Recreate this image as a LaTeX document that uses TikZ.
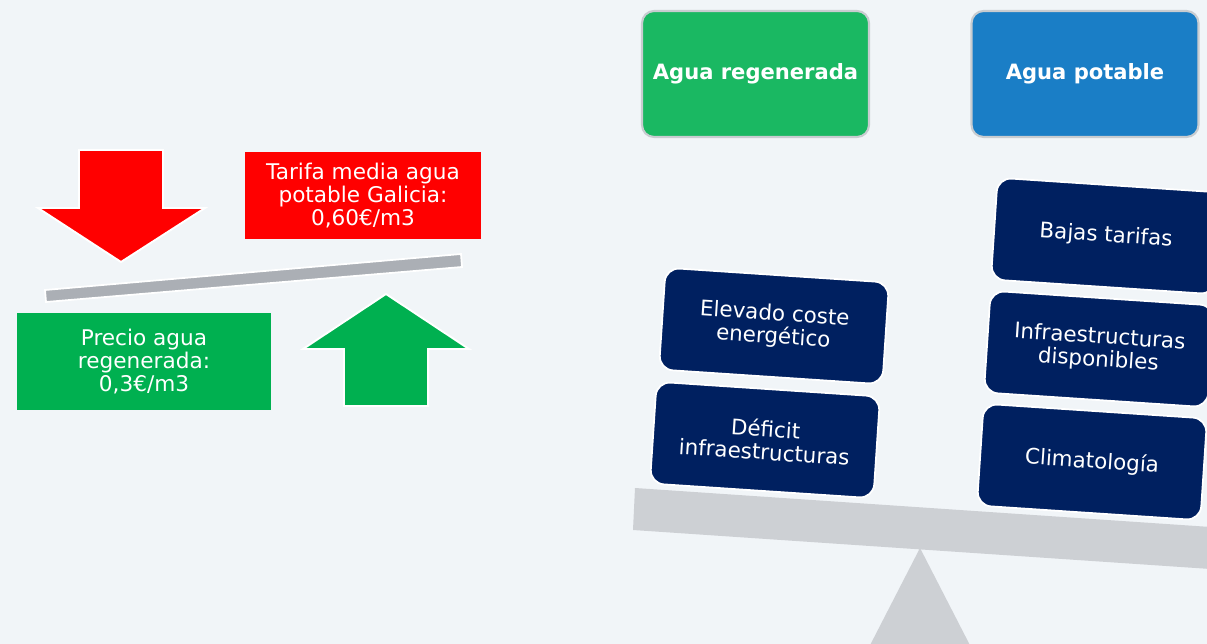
\documentclass[tikz,border=0pt]{standalone}
\usepackage{fontspec}
\setmainfont{DejaVu Sans}
\usetikzlibrary{positioning}
\definecolor{fondo}{RGB}{241,245,248}
\definecolor{rojo}{RGB}{255,0,0}
\definecolor{verde}{RGB}{0,176,80}
\definecolor{verdecaja}{RGB}{26,184,98}
\definecolor{azulcaja}{RGB}{26,126,198}
\definecolor{marino}{RGB}{0,32,96}
\definecolor{barra}{RGB}{171,175,181}
\definecolor{balanza}{RGB}{205,208,212}
\definecolor{bordegris}{RGB}{200,204,208}

\tikzset{
  precio/.style={text=white, align=center, inner sep=0pt, font=\fontsize{12.3}{13.2}\selectfont},
  titulo/.style={rounded corners=0.24cm, draw=bordegris, line width=1.2pt, text=white,
    minimum width=4.54cm, minimum height=2.52cm, font=\fontsize{12}{14}\selectfont\bfseries},
  factor/.style={rounded corners=0.28cm, draw=white, line width=1pt, fill=marino, text=white,
    rotate=-3.8, minimum width=4.48cm, minimum height=2.04cm, align=center, inner sep=0pt,
    font=\fontsize{12.2}{13}\selectfont},
  flecha/.style={draw=white, line width=1.1pt, line join=miter}
}

\begin{document}
\begin{tikzpicture}[x=0.02cm, y=-0.02cm]

    % === FONDO ===
    \fill[fondo] (0,0) rectangle (1207,644);
    \useasboundingbox (0,0) rectangle (1207,644);
    \clip (0,0) rectangle (1207,644);

    % === LADO IZQUIERDO: PRECIOS ===
    % Flecha roja hacia abajo
    \filldraw[flecha, fill=rojo] (79,150) -- (163,150) -- (163,208) -- (205,208)
        -- (121,262) -- (38,208) -- (79,208) -- cycle;

    % Barra inclinada
    \filldraw[draw=white, line width=1pt, fill=barra] (45,290) -- (461,254) -- (462,267) -- (46,302) -- cycle;

    % Flecha verde hacia arriba
    \filldraw[flecha, fill=verde] (386,294) -- (469,349) -- (428,349) -- (428,406)
        -- (344,406) -- (344,349) -- (303,349) -- cycle;

    \node[precio, fill=rojo, minimum width=4.72cm, minimum height=1.74cm] (tarifa) at (363,195.5)
        {Tarifa media agua\\potable Galicia:\\0,60€/m3};
    \node[precio, fill=verde, minimum width=5.08cm, minimum height=1.94cm] (precio) at (144,361.5)
        {Precio agua\\regenerada:\\0,3€/m3};

    % === LADO DERECHO: BALANZA ===
    \node[titulo, fill=verdecaja] (regenerada) at (755.5,74) {Agua regenerada};
    \node[titulo, fill=azulcaja] (potable) at (1085,74) {Agua potable};

    % Soporte y brazo
    \fill[balanza] (920,548) -- (975,655) -- (865,655) -- cycle;
    \fill[balanza] (635,488) -- (1240,529) -- (1240,571) -- (633,530) -- cycle;

    % Factores agua regenerada
    \node[factor] (deficit) at (765,440) {Déficit\\infraestructuras};
    \node[factor] (coste) at (774,326) {Elevado coste\\energético};

    % Factores agua potable
    \node[factor] (clima) at (1092,462) {Climatología};
    \node[factor] (infra) at (1099,349) {Infraestructuras\\disponibles};
    \node[factor] (bajas) at (1106,236) {Bajas tarifas};

\end{tikzpicture}
\end{document}
